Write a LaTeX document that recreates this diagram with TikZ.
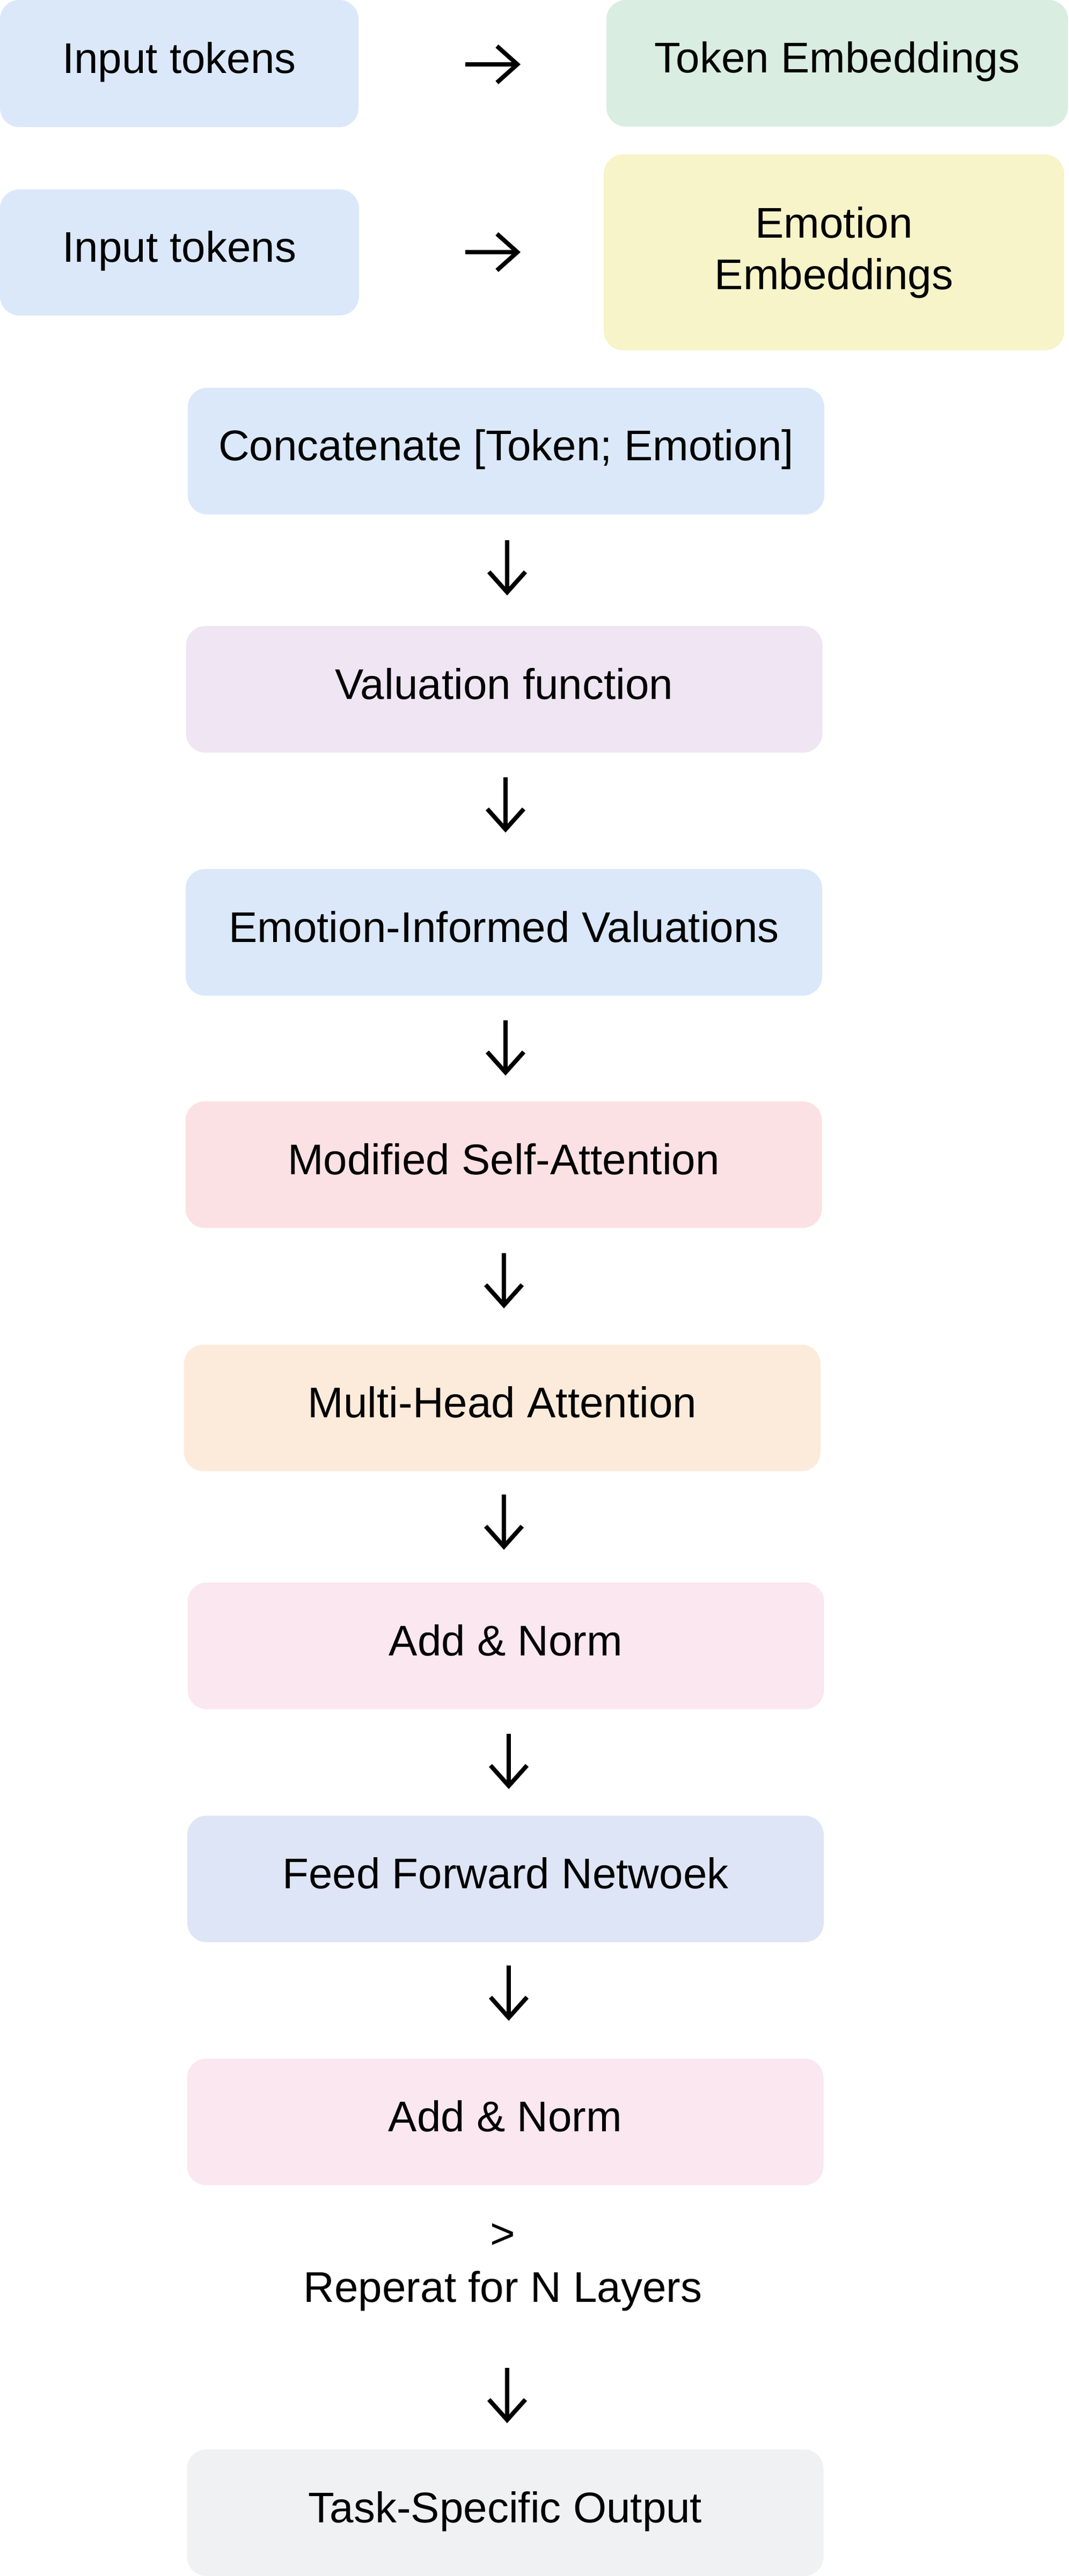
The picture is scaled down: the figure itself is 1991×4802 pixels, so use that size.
\documentclass[tikz,border=0pt]{standalone}
\usepackage{fontspec}
\setmainfont{Liberation Sans}
\usetikzlibrary{arrows.meta}
\definecolor{cblue}{RGB}{218,232,249}
\definecolor{cgreen}{RGB}{217,237,225}
\definecolor{cyellow}{RGB}{246,244,200}
\definecolor{cpurple}{RGB}{239,229,243}
\definecolor{cred}{RGB}{252,225,228}
\definecolor{corange}{RGB}{252,235,218}
\definecolor{cpink}{RGB}{250,231,239}
\definecolor{cffn}{RGB}{222,229,246}
\definecolor{cgray}{RGB}{240,241,243}
\tikzset{
  box/.style={rectangle, rounded corners=9pt, draw=none, inner sep=0pt, outer sep=0pt,
    font=\fontsize{20pt}{24pt}\selectfont, align=center},
  one/.style={box, text height=14pt, text depth=5pt},
  wide/.style={one, minimum width=296.5pt, minimum height=59pt},
  lbl/.style={inner sep=0pt, outer sep=0pt, font=\fontsize{20pt}{24pt}\selectfont, anchor=base},
  glyph/.style={line width=2pt, -{Straight Barb[length=9.5pt, width=17pt, line width=2pt]}}
}
\begin{document}
\begin{tikzpicture}[x=0.25pt,y=-0.25pt]
\useasboundingbox (0,0) rectangle (1991,4802);
% top rows
\node[one, fill=cblue, minimum width=167pt, minimum height=59.25pt] (it1) at (334,118.5) {Input tokens};
\node[one, fill=cgreen, minimum width=215pt, minimum height=59pt] (te) at (1560,118) {Token Embeddings};
\node[one, fill=cblue, minimum width=167.25pt, minimum height=58.75pt] (it2) at (334.5,470.5) {Input tokens};
\node[box, fill=cyellow, minimum width=214.5pt, minimum height=91.25pt] (ee) at (1554,470.5) {Emotion\\Embeddings};
% column
\node[wide, fill=cblue] (cat) at (943,841) {Concatenate [Token; Emotion]};
\node[wide, fill=cpurple] (val) at (939.5,1285) {Valuation function};
\node[wide, fill=cblue] (eiv) at (939,1738) {Emotion-Informed Valuations};
\node[wide, fill=cred] (msa) at (938.5,2171) {Modified Self-Attention};
\node[wide, fill=corange] (mha) at (936,2624.5) {Multi-Head Attention};
\node[wide, fill=cpink] (an1) at (942.5,3068) {Add \& Norm};
\node[wide, fill=cffn] (ffn) at (942,3502.5) {Feed Forward Netwoek};
\node[wide, fill=cpink] (an2) at (941.5,3955.5) {Add \& Norm};
\node[lbl] (gt) at (937,4191) {>};
\node[lbl] (rep) at (937,4291) {Reperat for N Layers};
\node[wide, fill=cgray] (out) at (941.5,4684) {Task-Specific Output};
% arrow ends
\coordinate (h1s) at (867,120); \coordinate (h1e) at (970,120);
\coordinate (h2s) at (867,470); \coordinate (h2e) at (970,470);
\coordinate (d1s) at (945,1007); \coordinate (d1e) at (945,1110);
\coordinate (d2s) at (942,1449); \coordinate (d2e) at (942,1552);
\coordinate (d3s) at (942,1902); \coordinate (d3e) at (942,2005);
\coordinate (d4s) at (939,2336); \coordinate (d4e) at (939,2439);
\coordinate (d5s) at (939,2786); \coordinate (d5e) at (939,2889);
\coordinate (d6s) at (948,3232); \coordinate (d6e) at (948,3335);
\coordinate (d7s) at (948,3664); \coordinate (d7e) at (948,3767);
\coordinate (d8s) at (945,4414); \coordinate (d8e) at (945,4517);
\draw[glyph] (h1s) -- (h1e);
\draw[glyph] (h2s) -- (h2e);
\draw[glyph] (d1s) -- (d1e);
\draw[glyph] (d2s) -- (d2e);
\draw[glyph] (d3s) -- (d3e);
\draw[glyph] (d4s) -- (d4e);
\draw[glyph] (d5s) -- (d5e);
\draw[glyph] (d6s) -- (d6e);
\draw[glyph] (d7s) -- (d7e);
\draw[glyph] (d8s) -- (d8e);
\end{tikzpicture}
\end{document}
